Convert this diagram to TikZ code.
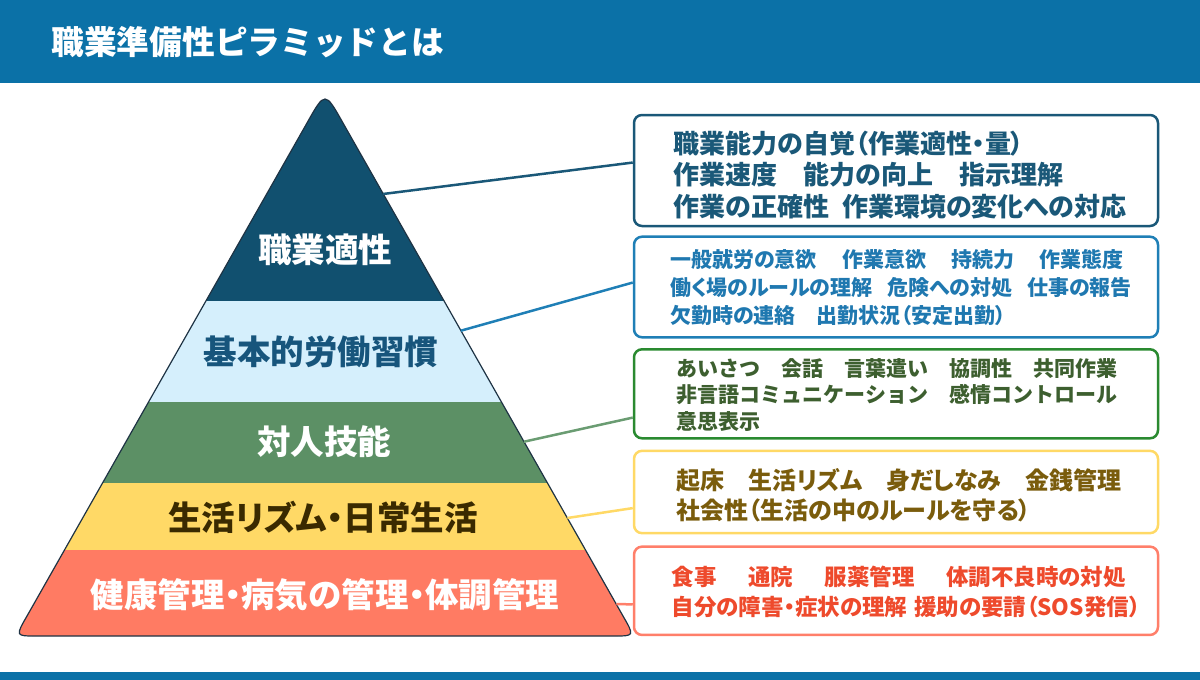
\documentclass[tikz,border=0pt]{standalone}
\usepackage{fontspec}
\setmainfont{Noto Sans CJK JP}[RawFeature={+palt}]
\newfontfamily\plainjp{Noto Sans CJK JP}
\usepackage{tikz}
\usetikzlibrary{calc}
\definecolor{barblue}{HTML}{0B71A7}
\definecolor{aptdark}{HTML}{11506F}
\definecolor{habitlight}{HTML}{D5EFFC}
\definecolor{habittext}{HTML}{17557C}
\definecolor{socialgreen}{HTML}{5C9065}
\definecolor{dailyyellow}{HTML}{FFD966}
\definecolor{dailytext}{HTML}{3A2A00}
\definecolor{healthred}{HTML}{FF7B63}
\definecolor{outline}{HTML}{1E3344}
\definecolor{aptline}{HTML}{1A5878}
\definecolor{habitline}{HTML}{1F7FB6}
\definecolor{habitword}{HTML}{1F78B0}
\definecolor{socialline}{HTML}{2A8A30}
\definecolor{socialword}{HTML}{3D5F2F}
\definecolor{sociallink}{HTML}{6A9C72}
\definecolor{dailyword}{HTML}{7A5C0C}
\definecolor{healthline}{HTML}{FF7F6A}
\definecolor{healthword}{HTML}{EE4A2C}
\tikzset{tier/.style={font=\bfseries\fontsize{33.5}{38}\selectfont},
 infobox/.style={draw, line width=2.5pt, rounded corners=8pt, minimum width=524pt, inner sep=0pt},
 link/.style={line width=2.5pt},
 }
\newcommand{\pyramidpath}{(27,616) -- (307,123) .. controls (325,91) .. (343,123) -- (623,616) .. controls (634.5,636) .. (614,636) -- (36,636) .. controls (15.5,636) .. (27,616) -- cycle}
% lines of a box, moved right by #1 and down by -#2
\newcommand{\infolines}[3]{\raisebox{#2}[\height][\depth]{\kern#1\vbox{\lineskiplimit=-100pt\let\\\cr\halign{##\hfil\cr#3\crcr}}\kern-#1}}

\begin{document}
\begin{tikzpicture}[x=1pt,y=-1pt]
        \useasboundingbox (0,0) rectangle (1200,680);
        % bars
        \fill[barblue] (0,0) rectangle (1200,83);
        \fill[barblue] (0,672) rectangle (1200,680);
        \node[anchor=west, text=white, font=\plainjp\bfseries\fontsize{32.7}{36}\selectfont] (title) at (48,42) {職業準備性ピラミッドとは};
        % pyramid
        \begin{scope}
            \clip \pyramidpath;
            \foreach \ytop/\ybot/\col in {80/301/aptdark, 301/402/habitlight, 402/483/socialgreen, 483/550/dailyyellow, 550/640/healthred} {
                \fill[\col] (0,\ytop) rectangle (660,\ybot);
            }
        \end{scope}
        \draw[line width=1.2pt, outline] \pyramidpath;
        \node[tier, text=white] (aptitude) at (325,250) {職業適性};
        \node[tier, text=habittext] (habits) at (321,352) {基本的労働習慣};
        \node[tier, text=white] (social) at (324,442) {対人技能};
        \node[tier, text=dailytext] (daily) at (323,517) {生活リズム・日常生活};
        \node[tier, text=white] (health) at (325,595) {健康管理・病気の管理・体調管理};
        % boxes
        \node[infobox, draw=aptline, text=aptline, minimum height=111pt, font=\bfseries\fontsize{26}{31.7}\selectfont] (aptbox) at (896,170.5)
            {\infolines{4pt}{-4.5pt}{職業能力の自覚（作業適性・量）\\作業速度　能力の向上　指示理解\\作業の正確性\hspace{.5em}作業環境の変化への対応}};
        \node[infobox, draw=habitline, text=habitword, minimum height=100.6pt, font=\bfseries\fontsize{21}{28}\selectfont] (habitbox) at (896,287)
            {\infolines{5pt}{-1pt}{一般就労の意欲\hspace{1.2em}作業意欲\hspace{1.2em}持続力\hspace{1.2em}作業態度\\働く場のルールの理解\hspace{.7em}危険への対処\hspace{.7em}仕事の報告\\欠勤時の連絡　出勤状況（安定出勤）}};
        \node[infobox, draw=socialline, text=socialword, minimum height=89pt, font=\plainjp\bfseries\fontsize{21}{26.7}\selectfont] (socialbox) at (896,393.8)
            {\infolines{1pt}{-1pt}{あいさつ　会話　言葉遣い　協調性　共同作業\\非言語コミュニケーション　感情コントロール\\意思表示}};
        \node[infobox, draw=dailyyellow, text=dailyword, minimum height=82.3pt, font=\bfseries\fontsize{24}{30}\selectfont] (dailybox) at (896,492)
            {\infolines{3pt}{-3pt}{起床　生活リズム　身だしなみ　金銭管理\\社会性（生活の中のルールを守る）}};
        \node[infobox, draw=healthline, text=healthword, minimum height=88.3pt, font=\bfseries\fontsize{22.5}{30}\selectfont] (healthbox) at (896,590.8)
            {\infolines{10pt}{-1pt}{食事\hspace{1.4em}通院\hspace{1.4em}服薬管理\hspace{1.4em}体調不良時の対処\\自分の障害・症状の理解\hspace{.3em}援助の要請（SOS発信）}};
        % connectors
        \foreach \b/\y/\f/\c in {aptbox/194/.43/aptline, habitbox/330.7/.457/habitline, socialbox/441.7/.76/sociallink, dailybox/518/.69/dailyyellow, healthbox/604/.65/healthline} {
            \coordinate (\b-edge) at ({325+0.569*(\y-92)},\y);
            \draw[link, \c] (\b-edge) -- ($(\b.north west)!\f!(\b.south west)$);
        }
    \end{tikzpicture}
\end{document}
